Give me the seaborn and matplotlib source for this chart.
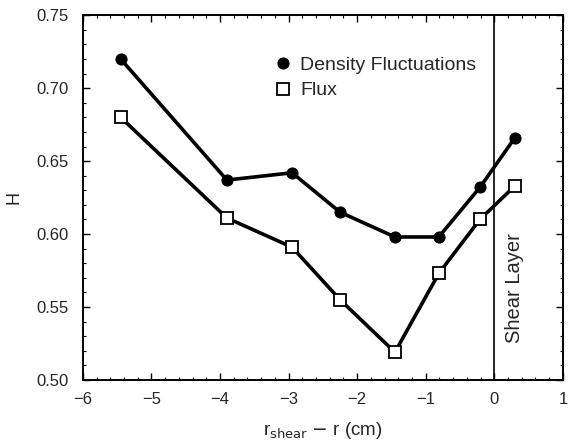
import numpy as np
import pandas as pd
import matplotlib
matplotlib.use("Agg")
import matplotlib.pyplot as plt
import seaborn as sns
from matplotlib.ticker import MultipleLocator

# values
r = [-5.45, -3.90, -2.95, -2.25, -1.45, -0.81, -0.21, 0.30]
density = [0.720, 0.637, 0.642, 0.615, 0.598, 0.598, 0.632, 0.666]
flux = [0.680, 0.611, 0.591, 0.555, 0.519, 0.573, 0.610, 0.633]

sns.set_style("ticks")
plt.rcParams['font.family'] = ['Liberation Sans', 'DejaVu Sans']

fig = plt.figure(figsize=(5.68, 4.47), dpi=100)
ax = fig.add_axes([0.146, 0.150, 0.845, 0.816])

sns.lineplot(x=r, y=density, ax=ax, color='black', lw=2.6, marker='o',
             markersize=8, markerfacecolor='black', markeredgecolor='black',
             label='Density Fluctuations')
sns.lineplot(x=r, y=flux, ax=ax, color='black', lw=2.6, marker='s',
             markersize=8, markerfacecolor='white', markeredgecolor='black',
             markeredgewidth=1.3, label='Flux')

ax.axvline(0, color='black', lw=1.2)
ax.text(0.30, 0.563, 'Shear Layer', rotation=90, ha='center', va='center',
        fontsize=14.5)

ax.set_xlim(-6, 1)
ax.set_ylim(0.50, 0.75)
ax.xaxis.set_major_locator(MultipleLocator(1))
ax.xaxis.set_minor_locator(MultipleLocator(0.2))
ax.yaxis.set_major_locator(MultipleLocator(0.05))
ax.yaxis.set_minor_locator(MultipleLocator(0.01))
ax.set_yticklabels([f"{v:.2f}" for v in ax.get_yticks()])
ax.set_xticklabels([f"{int(v)}".replace('-', '\u2212') for v in ax.get_xticks()])
ax.tick_params(which='both', direction='in', top=True, right=True,
               labelsize=12, color='black')
ax.tick_params(axis='y', which='major', pad=10)
ax.tick_params(axis='x', which='major', pad=9)
ax.tick_params(which='major', length=5, width=1)
ax.tick_params(which='minor', length=2.5, width=0.8)
for s in ax.spines.values():
    s.set_linewidth(1.4)
    s.set_color('black')

ax.set_xlabel(r'r$_{\mathrm{shear}}$ $-$ r (cm)', fontsize=13.5, labelpad=9)
ax.set_ylabel('H', fontsize=13, labelpad=10)

leg = ax.legend(loc='upper left', bbox_to_anchor=(0.36, 0.935), frameon=False,
                handlelength=1.0, fontsize=14, handletextpad=0.4,
                labelspacing=0.4)
for h in leg.legend_handles:
    h.set_linestyle('none')

fig.savefig('out.png', dpi=100)
